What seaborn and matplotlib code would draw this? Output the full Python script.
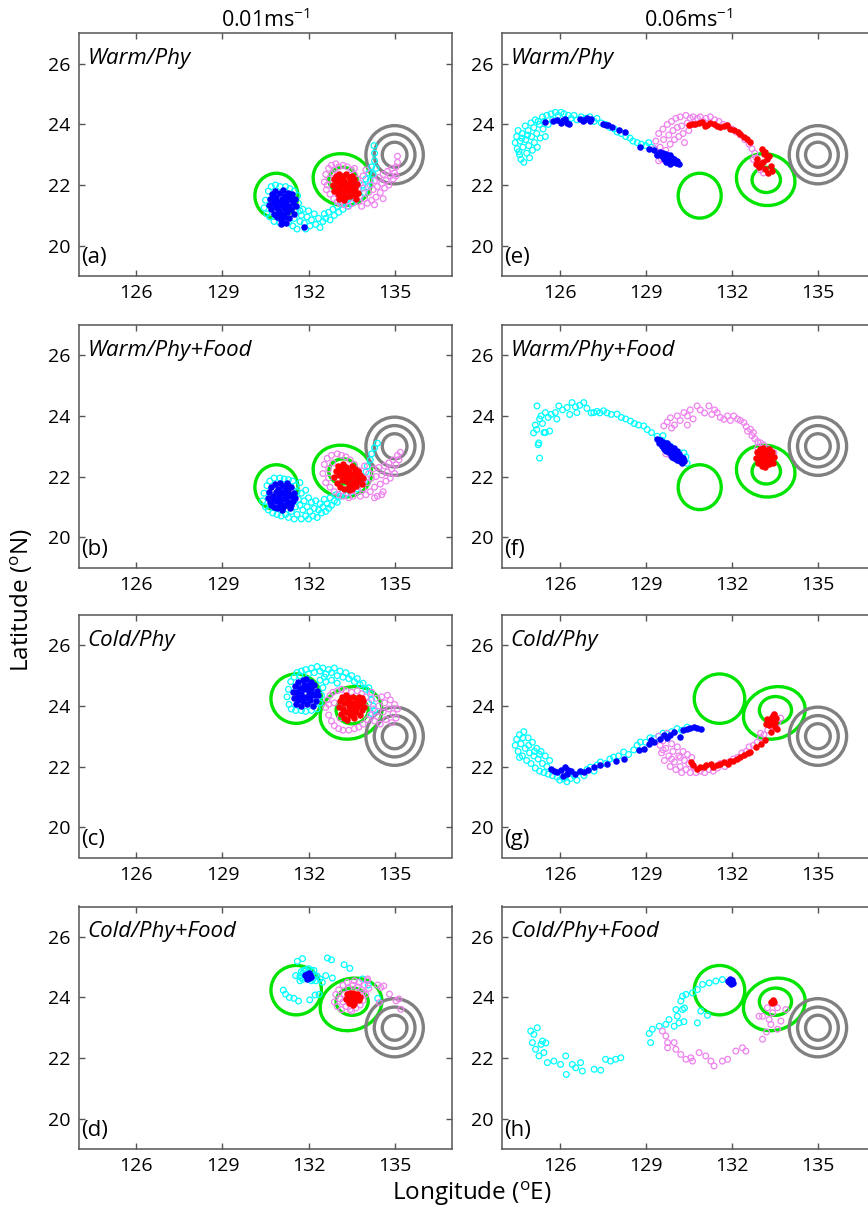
import matplotlib
matplotlib.use("Agg")
import matplotlib.pyplot as plt
from matplotlib.patches import Ellipse
import seaborn as sns
from pandas import DataFrame

# ---- particle positions (lon, lat) ----
A_CYAN = [(130.45,21.25),(130.5,21.5),(130.55,21.05),(130.6,21.8),(130.7,21.95),(130.85,22.0),(131.0,21.95),(131.2,21.95),
          (131.35,21.88),(131.5,21.8),(131.62,21.65),(131.65,21.4),(131.7,21.15),(130.65,20.95),(130.8,20.8),(131.0,20.75),
          (131.3,20.75),(131.45,20.65),(131.5,20.9),(131.6,20.55),(131.7,20.8),(131.75,21.0),(131.85,20.75),(131.9,20.55),
          (131.95,20.95),(132.05,20.65),(132.1,20.85),(132.2,21.05),(132.25,20.7),(132.35,20.9),(132.4,20.6),(132.5,20.8),
          (132.55,21.05),(132.6,20.9),(132.7,21.1),(132.75,20.85),(132.85,21.2),(132.9,21.0),(133.0,21.3),(133.05,21.1),
          (133.15,21.4),(133.2,21.2),(133.3,21.5),(133.35,21.3),(133.45,21.6),(133.5,21.4),(133.6,21.7),(133.65,21.5),
          (133.75,21.85),(133.8,21.6),(133.9,22.0),(133.95,21.75),(134.0,22.2),(134.05,21.95),(134.1,22.4),(134.15,22.15),
          (134.2,22.6),(134.25,22.35),(134.3,22.8),(134.3,23.05),(134.28,23.3),(134.35,22.55),(131.55,21.15),(131.8,21.2),(132.0,21.15)]
A_BLUE = [(130.62,21.35),(130.65,21.55),(130.7,21.2),(130.72,21.7),(130.75,21.42),(130.8,21.05),(130.82,21.8),(130.85,21.3),
          (130.88,21.6),(130.9,20.95),(130.95,21.45),(130.97,21.15),(131.0,21.75),(131.02,21.35),(131.05,20.85),(131.07,21.55),
          (131.1,21.05),(131.12,21.85),(131.15,21.25),(131.18,21.65),(131.2,20.75),(131.22,21.45),(131.25,21.1),(131.28,21.75),
          (131.3,21.3),(131.33,20.9),(131.35,21.55),(131.4,21.2),(131.42,21.7),(131.45,21.4),(131.5,21.05),(131.52,21.55),
          (131.55,21.3),(130.9,21.25),(131.0,21.0),(131.1,21.4),(131.2,21.2),(130.8,21.5),(131.25,21.6),(131.05,20.7),
          (131.15,20.95),(131.84,20.62)]
A_PINK = [(132.55,22.1),(132.6,22.35),(132.62,21.85),(132.7,22.55),(132.72,22.2),(132.75,21.7),(132.8,22.65),(132.85,22.4),
          (132.88,21.55),(132.95,22.7),(133.0,21.45),(133.05,22.6),(133.1,21.4),(133.2,22.65),(133.25,21.35),(133.35,22.6),
          (133.4,21.3),(133.5,22.5),(133.55,21.4),(133.6,22.35),(133.65,21.6),(133.7,22.2),(133.75,21.45),(133.8,22.05),
          (133.85,21.3),(133.9,22.3),(133.95,21.55),(134.0,22.5),(134.05,21.4),(134.1,21.75),(134.15,22.0),(134.2,21.5),
          (134.25,21.85),(134.3,22.15),(134.35,21.6),(134.4,21.95),(134.45,22.25),(134.5,21.75),(134.55,22.05),(134.6,22.35),
          (134.65,21.9),(134.7,22.15),(134.75,22.45),(134.8,22.0),(134.85,22.3),(134.9,22.55),(134.95,22.2),(135.0,22.4),
          (135.05,22.6),(135.1,22.75),(135.1,22.95),(135.05,22.3),(134.6,21.55),(134.3,21.35),(132.65,22.0),(132.9,22.5),
          (133.6,22.55),(133.9,21.9)]
A_RED = [(132.85,22.0),(132.88,22.2),(132.9,21.8),(132.95,22.3),(132.98,21.95),(133.0,22.15),(133.02,21.7),(133.05,22.35),
         (133.08,22.05),(133.1,21.85),(133.12,22.25),(133.15,21.6),(133.18,22.0),(133.2,22.3),(133.22,21.75),(133.25,22.15),
         (133.28,21.9),(133.3,22.35),(133.32,21.6),(133.35,22.05),(133.38,21.8),(133.4,22.25),(133.42,21.95),(133.45,21.65),
         (133.48,22.15),(133.5,21.85),(133.52,22.3),(133.55,22.0),(133.58,21.7),(133.6,22.2),(133.62,21.9),(133.65,21.55),
         (133.7,22.05),(133.72,21.75),(133.05,21.55),(133.25,21.5),(133.15,22.1),(133.35,21.95),(133.45,22.1),(133.65,21.7)]

B_CYAN = [(130.4,21.2),(130.45,21.45),(130.5,21.0),(130.55,21.7),(130.65,21.85),(130.8,21.95),(131.0,21.95),(131.15,21.92),
          (131.3,21.9),(131.45,21.85),(131.55,21.7),(131.6,21.5),(131.65,21.25),(131.7,21.8),(130.6,20.9),(130.75,20.8),
          (130.9,20.75),(131.05,20.7),(131.2,20.75),(131.3,20.65),(131.4,20.85),(131.5,20.6),(131.55,21.0),(131.6,20.75),
          (131.7,21.05),(131.75,20.6),(131.8,20.9),(131.85,21.2),(131.9,20.7),(131.95,21.0),(132.0,20.6),(132.05,20.85),
          (132.1,21.15),(132.15,20.7),(132.2,20.95),(132.25,21.2),(132.3,20.65),(132.35,20.9),(132.4,21.1),(132.45,20.8),
          (132.5,21.0),(132.55,21.25),(132.6,20.85),(132.65,21.1),(132.7,20.95),(132.75,21.3),(132.8,21.05),(132.9,21.2),
          (132.95,21.4),(133.0,21.15),(133.1,21.35),(133.2,21.5),(133.3,21.4),(133.4,21.6),(133.5,21.5),(133.6,21.7),
          (133.7,21.6),(133.8,21.8),(133.85,22.0),(133.95,21.85),(134.0,22.15),(134.05,22.35),(134.15,22.55),(134.2,22.75),
          (134.3,22.95),(134.4,23.1),(131.75,21.45),(132.0,21.3),(131.9,21.55)]
B_BLUE = [(130.58,21.3),(130.62,21.5),(130.65,21.15),(130.7,21.65),(130.75,21.35),(130.78,21.0),(130.82,21.75),(130.85,21.5),
          (130.88,21.2),(130.9,20.95),(130.95,21.6),(130.98,21.35),(131.0,21.8),(131.02,21.1),(131.05,21.5),(131.08,20.9),
          (131.1,21.7),(131.12,21.25),(131.15,21.45),(131.18,21.05),(131.2,21.62),(131.22,21.3),(131.25,21.8),(131.28,21.15),
          (131.3,21.5),(131.35,20.95),(131.38,21.35),(131.4,21.65),(131.45,21.2),(131.48,21.45),(131.52,21.3),(130.7,21.05),
          (130.8,21.25),(131.0,21.2),(131.1,21.0),(131.2,21.4),(131.3,21.7),(131.4,21.05)]
B_PINK = [(132.5,22.1),(132.55,22.4),(132.6,21.8),(132.65,22.6),(132.7,22.25),(132.75,21.65),(132.8,22.7),(132.85,22.45),
          (132.9,21.5),(133.0,22.75),(133.05,21.4),(133.15,22.7),(133.2,21.35),(133.3,22.65),(133.4,21.3),(133.45,22.55),
          (133.55,21.35),(133.6,22.4),(133.7,21.5),(133.75,22.2),(133.8,21.35),(133.85,22.0),(133.9,21.6),(133.95,22.35),
          (134.0,21.4),(134.05,21.8),(134.1,22.1),(134.15,21.5),(134.2,21.95),(134.25,22.25),(134.3,21.65),(134.35,22.0),
          (134.4,21.35),(134.45,22.3),(134.5,21.75),(134.55,22.05),(134.6,21.5),(134.65,22.35),(134.7,21.85),(134.75,22.15),
          (134.8,22.45),(134.85,21.95),(134.9,22.25),(134.95,22.55),(135.0,22.1),(135.05,22.4),(135.1,22.7),(135.15,22.55),
          (135.2,22.8),(134.3,21.3),(134.55,21.4),(132.7,21.95),(133.9,21.8)]
B_RED = [(132.9,22.0),(132.95,22.2),(133.0,21.8),(133.02,22.35),(133.05,22.05),(133.1,21.65),(133.12,22.25),(133.15,21.9),
         (133.2,22.4),(133.22,22.1),(133.25,21.6),(133.3,21.85),(133.32,22.3),(133.35,22.05),(133.4,21.7),(133.42,22.2),
         (133.45,21.95),(133.5,22.35),(133.52,21.6),(133.55,22.1),(133.6,21.85),(133.62,22.25),(133.65,21.7),(133.7,22.0),
         (133.72,22.2),(133.75,21.85),(133.8,22.05),(133.85,21.75),(133.9,21.95),(133.3,22.15),(133.5,21.8),(133.1,22.1),
         (133.4,21.55),(133.25,21.95)]

C_CYAN = [(131.25,24.3),(131.3,24.55),(131.32,24.05),(131.38,24.8),(131.4,23.9),(131.5,24.95),(131.55,23.85),(131.7,25.0),
          (131.75,23.85),(131.9,23.82),(132.1,23.85),(132.3,23.9),(132.4,24.1),(132.45,24.35),(132.5,24.6),(132.4,24.85),
          (131.6,25.1),(131.75,25.15),(131.9,25.2),(132.0,25.05),(132.1,25.25),(132.2,25.1),(132.3,25.3),(132.4,25.15),
          (132.5,25.25),(132.6,25.05),(132.7,25.2),(132.8,25.1),(132.9,25.25),(133.0,25.0),(133.1,25.15),(133.2,24.95),
          (133.3,25.1),(133.4,24.9),(133.5,25.0),(133.6,24.8),(133.7,24.9),(133.8,24.7),(133.9,24.75),(134.0,24.55),
          (134.1,24.6),(134.15,24.4),(134.2,24.2),(134.25,24.0),(134.3,23.85),(134.2,23.75),(132.6,24.8),(132.8,24.85),
          (133.0,24.75),(132.55,24.95)]
C_BLUE = [(131.45,24.45),(131.5,24.25),(131.52,24.65),(131.55,24.05),(131.6,24.45),(131.62,24.8),(131.65,24.2),(131.7,24.6),
          (131.72,24.0),(131.75,24.4),(131.8,24.85),(131.82,24.15),(131.85,24.55),(131.9,24.3),(131.92,24.9),(131.95,24.05),
          (131.98,24.7),(132.0,24.45),(132.05,24.2),(132.08,24.8),(132.1,24.55),(132.15,24.0),(132.18,24.35),(132.2,24.7),
          (132.25,24.15),(132.28,24.5),(132.32,24.35),(131.65,24.35),(131.85,24.7),(132.0,24.25),(131.75,24.3),(132.12,24.4),
          (131.9,24.6)]
C_PINK = [(132.6,23.95),(132.65,24.2),(132.7,23.7),(132.75,24.35),(132.8,23.5),(132.85,24.45),(132.9,23.35),(133.0,24.5),
          (133.05,23.25),(133.15,24.55),(133.2,23.2),(133.3,24.5),(133.4,23.2),(133.5,24.45),(133.6,23.25),(133.7,24.5),
          (133.75,23.3),(133.85,24.4),(133.9,23.4),(134.0,24.3),(134.05,23.55),(134.1,24.1),(134.15,23.7),(134.2,24.45),
          (134.3,23.5),(134.35,24.25),(134.4,23.65),(134.45,24.0),(134.5,23.4),(134.55,24.3),(134.6,23.8),(134.65,24.1),
          (134.7,23.55),(134.75,24.35),(134.8,23.9),(134.85,24.2),(134.9,23.45),(134.95,23.75),(135.0,24.05),(135.05,23.6),
          (135.1,23.9),(133.1,23.6),(132.9,24.1),(134.25,23.9),(132.7,24.05)]
C_RED = [(133.05,23.95),(133.1,24.15),(133.12,23.75),(133.15,24.3),(133.2,23.9),(133.22,23.6),(133.25,24.1),(133.3,23.8),
         (133.32,24.35),(133.35,23.55),(133.4,24.0),(133.42,24.25),(133.45,23.7),(133.5,24.1),(133.52,23.9),(133.55,24.3),
         (133.58,23.6),(133.6,24.05),(133.65,23.8),(133.68,24.2),(133.7,23.95),(133.75,24.3),(133.78,23.7),(133.8,24.05),
         (133.85,23.85),(133.9,24.15),(133.95,23.95),(133.35,24.15),(133.55,23.75),(133.65,23.95),(133.45,23.9),(133.85,24.25)]

D_CYAN = [(131.61,25.19),(131.79,25.28),(131.55,24.72),(132.19,24.89),(132.4,24.61),(132.48,24.5),(132.6,24.72),(132.83,24.64),
          (132.66,25.3),(132.8,25.24),(133.24,25.08),(133.44,24.96),(133.88,24.61),(134.08,24.41),(131.12,24.24),(131.2,24.11),
          (131.33,24.0),(131.49,23.97),(131.65,23.88),(132.04,23.92),(132.23,24.08),(132.37,24.1),(134.41,23.97),
          (131.7,24.7),(131.75,24.85),(131.8,24.6),(131.85,24.9),(132.1,24.9),(132.15,24.6),(132.2,24.75),(132.25,24.55),
          (131.8,24.8),(132.1,24.55),(131.9,24.9),(132.3,24.7),(131.7,24.55),(132.0,24.95),(131.75,24.65)]
D_BLUE = [(131.9,24.7),(131.95,24.78),(132.0,24.65),(132.05,24.75),(131.95,24.62),(132.08,24.68),(132.0,24.82),(131.88,24.75),
          (132.02,24.72)]
D_PINK = [(132.9,23.85),(132.95,24.1),(133.0,23.7),(133.05,24.25),(133.1,23.95),(133.15,23.6),(133.2,24.4),(133.25,24.1),
          (133.3,23.7),(133.35,24.5),(133.4,24.3),(133.45,23.6),(133.55,24.4),(133.6,24.55),(133.65,23.65),(133.7,24.35),
          (133.75,24.5),(133.8,23.75),(133.85,24.25),(133.9,23.9),(133.95,24.4),(134.0,24.1),(134.05,24.55),(134.1,24.3),
          (134.06,24.61),(133.2,23.85),(133.9,24.15),(134.41,24.41),(134.52,24.33),(134.62,24.38),(134.82,24.11),
          (135.05,23.89),(135.15,23.95),(135.22,23.61),(134.47,23.83),(133.5,23.55)]
D_RED = [(133.3,23.95),(133.35,24.1),(133.4,23.8),(133.45,24.05),(133.5,23.9),(133.55,24.15),(133.6,23.8),(133.65,24.0),
         (133.7,24.1),(133.75,23.9),(133.5,24.05),(133.6,23.95),(133.4,23.95),(133.55,23.75),(133.8,24.0),(133.45,24.15)]

E_CYAN = [(124.45,23.4),(124.5,23.6),(124.52,23.2),(124.55,23.8),(124.6,23.0),(124.62,23.45),(124.65,22.85),(124.7,23.7),
          (124.72,23.25),(124.75,22.75),(124.8,23.95),(124.82,23.5),(124.85,23.05),(124.9,23.8),(124.92,23.3),(124.95,22.9),
          (125.0,24.05),(125.02,23.6),(125.05,23.15),(125.1,23.9),(125.12,23.4),(125.15,24.15),(125.2,23.7),(125.22,23.25),
          (125.3,24.0),(125.32,23.55),(125.4,24.25),(125.42,23.85),(125.5,23.6),(125.55,24.3),(125.6,24.0),(125.7,24.35),
          (125.75,24.15),(125.85,24.4),(125.95,24.3),(126.05,24.4),(126.15,24.35),(126.3,24.3),(126.4,24.2),(126.5,24.3),
          (126.6,24.15),(126.75,24.25),(126.9,24.2),(127.05,24.25),(127.2,24.1),(127.3,24.2),(127.45,24.05),(127.6,24.0),
          (127.75,23.9),(127.9,23.85),(128.0,23.75),(128.15,23.7),(128.3,23.6),(128.45,23.55),(128.55,23.45),(128.7,23.4),
          (128.85,23.35),(129.0,23.3),(129.1,23.4),(129.2,23.25),(129.3,23.2),(124.58,23.1),(124.68,23.55),(124.88,23.65),
          (125.25,24.1),(125.45,24.1)]
E_BLUE = [(125.5,24.07),(125.75,24.11),(125.9,24.14),(126.05,24.05),(126.1,24.15),(126.2,24.18),(126.25,24.05),(126.32,24.0),
          (126.72,24.19),(126.8,24.1),(126.85,24.15),(126.95,24.22),(127.05,24.1),(127.1,24.17),(127.5,24.03),(127.6,23.97),
          (127.7,23.98),(127.82,23.92),(128.05,23.81),(128.28,23.76),(128.81,23.26),(129.1,23.2),(129.28,23.15),(129.4,23.0),
          (129.5,23.1),(129.55,22.95),(129.6,23.05),(129.65,22.85),(129.72,23.02),(129.75,22.9),(129.8,22.8),(129.85,23.0),
          (129.9,22.9),(129.95,22.75),(130.0,22.85),(130.05,22.72),(130.1,22.8),(130.15,22.7),(129.7,22.75),(129.85,22.68)]
E_PINK = [(129.35,23.45),(129.4,23.0),(129.45,23.7),(129.5,23.25),(129.55,22.85),(129.6,23.85),(129.62,23.5),(129.7,23.15),
          (129.75,24.0),(129.8,23.65),(129.85,23.35),(129.9,24.1),(129.95,23.8),(130.0,23.5),(130.05,24.2),(130.1,23.9),
          (130.15,23.6),(130.2,24.25),(130.25,23.95),(130.3,23.7),(130.4,24.3),(130.45,24.05),(130.5,23.8),(130.55,24.2),
          (130.65,24.25),(130.7,24.0),(130.8,24.2),(130.9,24.25),(131.0,24.1),(131.1,24.2),(131.25,24.25),(131.4,24.15),
          (131.55,24.1),(131.7,24.0),(131.85,23.95),(132.0,23.85),(132.15,23.75),(132.3,23.65),(132.45,23.5),(132.6,23.35),
          (132.7,23.2),(132.8,23.05),(132.85,22.9),(132.9,22.75),(132.95,22.6),(133.0,22.5),(133.1,22.4),(132.75,22.85),
          (129.45,22.8),(129.7,22.8),(130.35,23.4),(129.3,23.2)]
E_RED = [(130.5,23.98),(130.6,24.0),(130.73,24.03),(130.85,24.06),(130.97,24.09),(131.05,23.95),(131.14,23.98),(131.25,24.05),
         (131.37,24.03),(131.5,23.95),(131.6,23.92),(131.72,23.95),(131.84,23.98),(131.95,23.85),(132.07,23.81),(132.2,23.75),
         (132.3,23.7),(132.42,23.6),(132.53,23.53),(132.65,23.42),(133.06,23.2),(133.12,23.03),(132.88,22.86),(133.23,22.86),
         (133.0,22.7),(133.35,22.64),(133.17,22.53),(133.41,22.48),(132.94,22.59),(133.1,22.75),(133.3,22.95),(133.25,22.4),
         (132.85,22.7),(133.15,23.1)]

F_CYAN = [(125.09,23.44),(125.15,23.7),(125.2,23.55),(125.27,23.11),(125.3,22.61),(125.25,23.05),(125.21,24.33),(125.3,23.9),
          (125.35,24.0),(125.4,23.75),(125.45,23.45),(125.5,24.11),(125.6,23.95),(125.7,24.05),(125.85,24.11),(125.9,23.9),
          (125.97,24.33),(126.1,24.2),(126.26,24.28),(126.35,24.05),(126.43,24.44),(126.55,24.3),(126.6,24.11),(126.7,24.35),
          (126.84,24.44),(126.95,24.25),(127.1,24.1),(127.19,24.11),(127.3,24.15),(127.4,24.1),(127.53,24.17),(127.65,24.1),
          (127.8,24.05),(128.0,24.06),(128.15,23.95),(128.3,23.9),(128.47,23.83),(128.6,23.75),(128.75,23.7),(128.93,23.67),
          (129.05,23.55),(129.2,23.45),(129.4,23.33),(129.55,23.2),(129.7,23.1),(129.86,23.0),(130.0,22.9),(130.15,22.8),
          (130.33,22.78),(130.44,22.44),(130.4,22.65),(130.25,22.55),(130.05,22.6),(129.6,23.35),(125.5,23.45),(125.65,23.5)]
F_BLUE = [(129.4,23.25),(129.45,23.1),(129.5,23.2),(129.55,23.0),(129.6,23.15),(129.62,22.9),(129.68,23.05),(129.7,22.85),
          (129.75,23.1),(129.78,22.95),(129.82,22.8),(129.85,23.0),(129.88,22.7),(129.9,22.9),(129.95,22.78),(129.98,22.6),
          (130.0,22.95),(130.05,22.7),(130.08,22.85),(130.1,22.55),(130.15,22.75),(130.18,22.5),(130.22,22.65),(130.25,22.45),
          (130.3,22.6),(130.35,22.5),(129.72,22.98),(129.92,22.65),(130.12,22.65),(129.58,23.05),(129.8,22.88),(130.02,22.8)]
F_PINK = [(129.63,23.67),(129.75,23.8),(129.86,23.94),(130.0,23.7),(130.1,24.0),(130.2,23.85),(130.33,24.11),(130.45,24.0),
          (130.55,24.2),(130.65,23.9),(130.79,24.33),(130.9,24.2),(131.05,24.1),(131.2,24.33),(131.3,24.05),(131.4,24.2),
          (131.49,24.11),(131.6,23.95),(131.72,23.89),(131.85,24.0),(131.95,23.85),(132.07,24.0),(132.2,23.9),(132.3,23.85),
          (132.42,23.78),(132.5,23.65),(132.55,23.5),(132.65,23.56),(132.7,23.35),(132.8,23.25),(132.9,23.15),(133.0,23.11),
          (133.1,23.05),(133.23,22.94),(133.35,22.85),(133.47,22.78),(132.9,22.95),(129.7,22.75),(129.85,22.7),(130.0,22.65),
          (132.75,23.45),(133.15,22.9),(129.9,23.6),(130.45,23.7)]
F_RED = [(132.85,22.6),(132.88,22.8),(132.9,22.45),(132.95,22.7),(132.98,22.9),(133.0,22.55),(133.05,22.35),(133.08,22.75),
         (133.1,22.95),(133.12,22.6),(133.15,22.3),(133.18,22.85),(133.2,22.5),(133.25,22.7),(133.28,22.4),(133.3,22.9),
         (133.35,22.6),(133.4,22.8),(133.42,22.45),(133.48,22.65),(133.05,22.6),(133.2,22.65),(133.1,22.45),(133.3,22.55)]

G_CYAN = [(124.45,22.7),(124.5,22.9),(124.55,22.5),(124.6,23.05),(124.65,22.75),(124.7,22.35),(124.75,23.15),(124.8,22.6),
          (124.85,22.2),(124.9,22.95),(124.95,22.45),(125.0,22.1),(125.05,22.8),(125.1,22.35),(125.15,21.95),(125.2,22.6),
          (125.25,22.25),(125.3,21.85),(125.35,22.5),(125.4,22.1),(125.45,21.8),(125.5,22.35),(125.55,22.0),(125.6,21.75),
          (125.65,22.2),(124.72,22.95),(124.92,22.7),(125.12,22.5),(125.3,22.4),(124.6,22.3),(125.75,21.7),(125.91,21.65),
          (126.0,21.55),(126.14,21.6),(126.25,21.5),(126.37,21.6),(126.5,21.7),(126.6,21.55),(126.72,21.82),(126.85,21.7),
          (126.95,21.9),(127.07,21.98),(127.2,21.85),(127.3,22.05),(127.42,22.15),(127.6,22.1),(127.75,22.25),(127.88,22.31),
          (128.05,22.35),(128.23,22.48),(128.4,22.4),(128.58,22.55),(128.7,22.7),(128.81,22.81),(129.0,22.8),(129.15,22.95),
          (129.28,22.92),(129.45,23.0),(129.6,23.1),(129.74,23.08),(129.9,23.15),(130.09,23.25),(130.25,23.2),(130.44,23.3)]
G_BLUE = [(125.68,21.93),(125.8,21.85),(125.91,21.82),(126.05,21.9),(126.2,21.98),(126.26,21.76),(126.4,21.85),(126.55,21.76),
          (126.7,21.85),(126.84,21.82),(127.0,21.9),(127.19,21.98),(127.4,22.05),(127.65,22.09),(127.95,22.2),(128.23,22.26),
          (128.75,22.55),(128.93,22.59),(129.1,22.75),(129.17,22.86),(129.3,22.8),(129.51,22.92),(129.63,23.03),(129.75,22.95),
          (129.86,23.03),(129.98,23.14),(130.21,22.97),(130.3,23.2),(130.44,23.25),(130.55,23.28),(130.67,23.3),(130.8,23.27),
          (130.91,23.25),(126.3,21.9),(126.1,21.7)]
G_PINK = [(129.45,23.0),(129.5,22.7),(129.55,22.45),(129.6,22.85),(129.65,22.2),(129.7,22.6),(129.75,23.1),(129.8,22.35),
          (129.85,22.0),(129.9,22.75),(129.95,22.5),(130.0,22.15),(130.05,21.9),(130.1,22.65),(130.15,22.35),(130.2,22.0),
          (130.25,21.8),(130.3,22.5),(130.35,22.2),(130.4,21.9),(130.45,22.4),(130.5,22.1),(130.55,21.8),(130.6,22.3),
          (130.65,22.0),(129.6,22.55),(129.9,22.25),(130.2,22.3),(130.75,21.8),(130.9,21.85),(131.05,21.8),(131.2,21.9),
          (131.35,21.85),(131.5,21.95),(131.6,22.1),(131.75,22.0),(131.9,22.15),(132.05,22.25),(132.2,22.3),(132.35,22.45),
          (132.5,22.5),(132.6,22.65),(132.75,22.7),(132.88,22.8),(133.0,22.95),(133.12,23.05),(133.25,23.2),(133.35,23.35),
          (133.5,23.5),(133.6,23.45),(133.7,23.6),(133.47,23.7),(133.0,23.1)]
G_RED = [(130.56,22.15),(130.65,22.05),(130.79,21.93),(130.9,22.0),(131.03,21.98),(131.1,22.05),(131.26,22.09),(131.35,22.0),
         (131.49,22.04),(131.6,22.1),(131.72,22.15),(131.85,22.1),(131.95,22.2),(132.05,22.2),(132.18,22.26),(132.3,22.3),
         (132.42,22.37),(132.55,22.45),(132.65,22.48),(132.85,22.65),(133.0,22.75),(133.17,22.86),(133.24,23.58),(133.41,23.63),
         (133.52,23.47),(133.29,23.36),(133.58,23.25),(133.35,23.14),(133.47,23.74),(133.55,23.6),(133.4,23.45),(133.3,23.55),
         (133.5,23.3),(133.2,23.4)]

H_CYAN = [(124.99,22.89),(125.1,22.78),(125.22,23.0),(125.05,22.51),(125.16,22.29),(125.28,22.07),(125.45,22.18),(125.57,21.85),
          (125.8,21.9),(126.03,21.79),(126.21,22.07),(126.23,21.46),(126.44,21.79),(126.56,21.68),(126.73,21.85),(126.79,21.57),
          (127.2,21.63),(127.43,21.6),(127.6,21.96),(127.77,21.9),(127.95,21.96),(128.13,22.01),(125.4,22.56),(125.52,22.5),
          (125.35,22.45),(129.12,22.81),(129.17,22.51),(129.23,22.95),(129.47,23.05),(129.7,23.11),(129.81,23.27),(129.99,23.05),
          (130.1,23.38),(130.28,23.6),(130.35,23.65),(130.4,24.1),(130.28,24.04),(130.63,24.15),(130.8,24.26),(130.98,24.43),
          (131.21,24.48),(131.44,24.54),(131.67,24.59),(130.92,23.55),(131.15,23.41),(130.8,23.16),(130.05,23.6),(130.22,23.88),
          (130.16,23.16),(130.33,23.2)]
H_BLUE = [(131.9,24.5),(131.95,24.55),(132.0,24.5),(131.97,24.45),(132.02,24.58),(131.93,24.6),(132.05,24.48),(131.88,24.55)]
H_PINK = [(129.58,22.89),(129.7,22.73),(129.76,22.51),(129.76,22.34),(129.99,22.51),(130.05,22.29),(130.22,22.12),(130.4,21.96),
          (130.57,22.01),(130.63,21.9),(130.86,22.18),(131.09,22.07),(131.27,21.9),(131.38,21.74),(131.67,21.9),(131.85,21.96),
          (132.14,22.23),(132.37,22.34),(132.49,22.23),(133.07,22.62),(133.21,22.86),(133.3,23.27),(133.07,23.38),(133.42,23.49),
          (133.59,23.66),(133.71,23.22),(133.59,22.95),(133.24,23.66),(133.88,23.6),(133.36,23.11),(132.95,23.38)]
H_RED = [(133.38,23.85),(133.42,23.9),(133.46,23.84),(133.4,23.8),(133.45,23.88)]

# eddy contours: (lon, lat, width, height, angle)
WARM_EDDIES = [(130.88, 21.65, 1.50, 1.48, 0), (133.18, 22.18, 2.05, 1.70, -10), (133.20, 22.17, 0.99, 0.83, 0)]
COLD_EDDIES = [(131.57, 24.24, 1.76, 1.63, 0), (133.48, 23.77, 2.18, 1.70, 15), (133.52, 23.86, 1.12, 0.90, 0)]
# grey circles at the source
SOURCE = (135.0, 23.0)
SOURCE_RADII = [1.0, 0.71, 0.43]

TITLES = ["Warm/Phy", "Warm/Phy+Food", "Cold/Phy", "Cold/Phy+Food"]
LETTERS = [["(a)", "(e)"], ["(b)", "(f)"], ["(c)", "(g)"], ["(d)", "(h)"]]
COLUMNS = ["0.01ms$^{-1}$", "0.06ms$^{-1}$"]
XTICKS = [126, 129, 132, 135]
YTICKS = [20, 22, 24, 26]

PANELS = [
    [(A_CYAN, A_BLUE, A_PINK, A_RED), (E_CYAN, E_BLUE, E_PINK, E_RED)],
    [(B_CYAN, B_BLUE, B_PINK, B_RED), (F_CYAN, F_BLUE, F_PINK, F_RED)],
    [(C_CYAN, C_BLUE, C_PINK, C_RED), (G_CYAN, G_BLUE, G_PINK, G_RED)],
    [(D_CYAN, D_BLUE, D_PINK, D_RED), (H_CYAN, H_BLUE, H_PINK, H_RED)],
]
EDDIES = [WARM_EDDIES, WARM_EDDIES, COLD_EDDIES, COLD_EDDIES]

sns.set_style("ticks")
plt.rcParams['font.family'] = ['Open Sans', 'DejaVu Sans']
plt.rcParams['mathtext.default'] = 'regular'
plt.rcParams['axes.edgecolor'] = '#555555'
plt.rcParams['axes.linewidth'] = 1.1
plt.rcParams['text.color'] = 'black'
plt.rcParams['xtick.labelcolor'] = 'black'
plt.rcParams['ytick.labelcolor'] = 'black'

fig = plt.figure(figsize=(8.68, 12.09), dpi=100)
col_x = [79 / 868, 502.3 / 868]
row_y = [1 - 276 / 1209, 1 - 567.5 / 1209, 1 - 857.5 / 1209, 1 - 1149 / 1209]
ax_w = 373 / 868
ax_h = 242.5 / 1209


def draw_points(ax, pts, color, hollow, z):
    df = DataFrame(pts, columns=["lon", "lat"])
    if hollow:
        sns.scatterplot(data=df, x="lon", y="lat", ax=ax, s=17, marker="o",
                        facecolor="none", edgecolor=color, linewidth=0.9, zorder=z)
    else:
        sns.scatterplot(data=df, x="lon", y="lat", ax=ax, s=22, marker="o",
                        color=color, linewidth=0, zorder=z)


for r in range(4):
    for c in range(2):
        ax = fig.add_axes([col_x[c], row_y[r], ax_w, ax_h])
        cyan, blue, pink, red = PANELS[r][c]

        for (x0, y0, w, h, ang) in EDDIES[r]:
            ax.add_patch(Ellipse((x0, y0), w, h, angle=ang, fill=False,
                                 ec='#00E400', lw=2.4, zorder=1))
        for rad in SOURCE_RADII:
            ax.add_patch(Ellipse(SOURCE, 2 * rad, 2 * rad * 0.96, fill=False,
                                 ec='#808080', lw=2.4, zorder=1))

        draw_points(ax, cyan, '#00FFFF', True, 2)
        draw_points(ax, pink, '#EE82EE', True, 3)
        draw_points(ax, blue, '#0000FF', False, 4)
        draw_points(ax, red, '#FF0000', False, 5)

        ax.set_xlim(124, 137)
        ax.set_ylim(19, 27)
        ax.set_xticks(XTICKS)
        ax.set_yticks(YTICKS)
        ax.set_xlabel("")
        ax.set_ylabel("")
        ax.tick_params(direction='in', top=True, right=True, length=4, width=1,
                       color='#555555', labelcolor='black', labelsize=14, pad=6)
        for sp in ax.spines.values():
            sp.set_visible(True)

        ax.text(0.022, 0.895, TITLES[r], transform=ax.transAxes, fontsize=16,
                style='italic', va='center', ha='left', color='black')
        ax.text(0.006, 0.075, LETTERS[r][c], transform=ax.transAxes, fontsize=16,
                va='center', ha='left', color='black')

fig.text(265.5 / 868, 1 - 20 / 1209, COLUMNS[0], ha='center', va='center', fontsize=15.5)
fig.text(688.8 / 868, 1 - 20 / 1209, COLUMNS[1], ha='center', va='center', fontsize=15.5)
fig.text(22 / 868, 0.504, "Latitude ($^{o}$N)", rotation=90, ha='center', va='center', fontsize=17.5)
fig.text(472 / 868, 1 - 1194 / 1209, "Longitude ($^{o}$E)", ha='center', va='center', fontsize=17.5)

fig.savefig("out.png", dpi=100)
